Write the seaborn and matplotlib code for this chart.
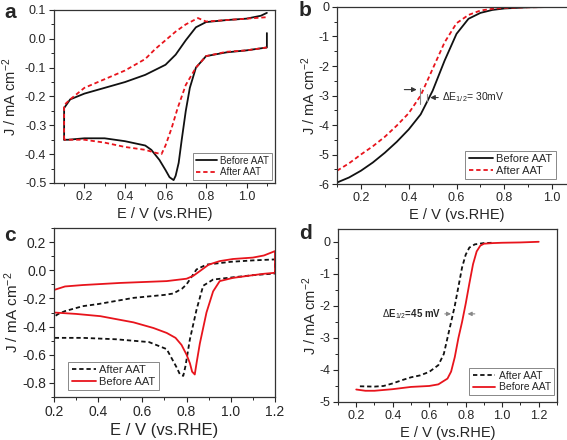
"""
Voltametrías (CV) y curvas LSV antes / después del AAT - 4 paneles
"""

import numpy as np
import pandas as pd
import matplotlib
matplotlib.use("Agg")
import matplotlib.pyplot as plt
from matplotlib.ticker import MultipleLocator
import seaborn as sns

# Datos
# Panel a: CV, rama anódica (0.1 -> 1.1) y rama catódica (1.1 -> 0.1)
a_antes_sube_e = [0.10, 0.10, 0.13, 0.20, 0.30, 0.40, 0.50, 0.60, 0.65, 0.70, 0.75, 0.80, 0.90, 1.00, 1.07, 1.10]
a_antes_sube_j = [-0.35, -0.24, -0.21, -0.19, -0.17, -0.15, -0.125, -0.09, -0.055, -0.005, 0.04, 0.058, 0.065, 0.07, 0.08, 0.09]
a_antes_baja_e = [1.10, 1.10, 1.05, 1.00, 0.90, 0.80, 0.75, 0.72, 0.70, 0.68, 0.665, 0.65, 0.64, 0.62, 0.60, 0.57,
                  0.53, 0.50, 0.40, 0.30, 0.20, 0.12, 0.10]
a_antes_baja_j = [0.02, -0.03, -0.035, -0.04, -0.047, -0.06, -0.10, -0.17, -0.25, -0.35, -0.43, -0.475, -0.49, -0.48, -0.455, -0.42,
                  -0.385, -0.37, -0.355, -0.345, -0.345, -0.35, -0.35]
a_despues_sube_e = [0.10, 0.10, 0.13, 0.20, 0.30, 0.40, 0.50, 0.55, 0.60, 0.65, 0.70, 0.76, 0.80, 0.90, 1.00, 1.10]
a_despues_sube_j = [-0.35, -0.23, -0.21, -0.17, -0.14, -0.11, -0.07, -0.035, -0.005, 0.025, 0.05, 0.072, 0.06, 0.065, 0.07, 0.075]
a_despues_baja_e = [1.10, 1.00, 0.90, 0.80, 0.75, 0.70, 0.66, 0.63, 0.60, 0.58, 0.55, 0.50, 0.40, 0.30, 0.20, 0.10]
a_despues_baja_j = [-0.03, -0.04, -0.045, -0.06, -0.10, -0.16, -0.24, -0.31, -0.37, -0.40, -0.395, -0.385, -0.375, -0.36, -0.35, -0.35]

# Panel b: LSV
b_e = [0.10, 0.15, 0.20, 0.25, 0.30, 0.35, 0.40, 0.45, 0.50, 0.55, 0.60, 0.65, 0.70, 0.75, 0.80, 0.90, 1.00, 1.10]
b_antes_j = [-5.95, -5.78, -5.55, -5.27, -4.94, -4.57, -4.15, -3.64, -2.84, -1.82, -0.91, -0.40, -0.20, -0.10, -0.05, -0.01, 0.0, 0.0]
b_despues_j = [-5.55, -5.30, -5.00, -4.72, -4.40, -4.02, -3.60, -3.00, -2.10, -1.20, -0.55, -0.27, -0.12, -0.06, -0.03, -0.01, 0.0, 0.0]

# Panel c: CV (ciclo completo)
c_antes_e = [0.20, 0.20, 0.25, 0.33, 0.50, 0.71, 0.80, 0.83, 0.86, 0.90, 0.95, 1.01, 1.10, 1.15, 1.20,
             1.20, 1.15, 1.10, 1.01, 0.95, 0.92, 0.89, 0.86, 0.845, 0.837, 0.825, 0.815, 0.80, 0.777, 0.75,
             0.71, 0.65, 0.56, 0.41, 0.30, 0.20]
c_antes_j = [-0.30, -0.14, -0.115, -0.105, -0.09, -0.077, -0.06, -0.04, -0.006, 0.04, 0.065, 0.08, 0.09, 0.105, 0.136,
             -0.018, -0.025, -0.035, -0.054, -0.077, -0.15, -0.30, -0.52, -0.66, -0.74, -0.72, -0.66, -0.60, -0.53, -0.48,
             -0.445, -0.41, -0.37, -0.326, -0.31, -0.30]
c_despues_e = [0.20, 0.20, 0.22, 0.25, 0.33, 0.40, 0.56, 0.70, 0.74, 0.78, 0.80, 0.845, 0.89, 1.00, 1.10, 1.20,
               1.20, 1.10, 1.01, 0.92, 0.875, 0.845, 0.815, 0.795, 0.785, 0.77, 0.755, 0.71, 0.63, 0.48, 0.33, 0.20, 0.20]
c_despues_j = [-0.47, -0.33, -0.31, -0.29, -0.255, -0.24, -0.196, -0.175, -0.165, -0.13, -0.10, 0.006, 0.04, 0.06, 0.07, 0.077,
               -0.023, -0.035, -0.05, -0.066, -0.11, -0.28, -0.49, -0.68, -0.75, -0.74, -0.69, -0.56, -0.51, -0.49, -0.48, -0.48, -0.47]

# Panel d: LSV
d_antes_e = [0.20, 0.25, 0.30, 0.40, 0.50, 0.60, 0.65, 0.70, 0.72, 0.74, 0.76, 0.78, 0.80, 0.82, 0.84, 0.86, 0.88, 0.90,
             0.95, 1.00, 1.10, 1.20]
d_antes_j = [-4.61, -4.65, -4.65, -4.60, -4.53, -4.50, -4.45, -4.27, -4.05, -3.60, -3.00, -2.50, -1.93, -1.30, -0.70, -0.30,
             -0.12, -0.06, -0.04, -0.03, -0.02, 0.0]
d_despues_e = [0.22, 0.30, 0.35, 0.40, 0.45, 0.50, 0.55, 0.60, 0.65, 0.68, 0.70, 0.72, 0.74, 0.76, 0.78, 0.80, 0.82, 0.85,
               0.90, 0.95]
d_despues_j = [-4.51, -4.52, -4.50, -4.42, -4.32, -4.23, -4.17, -4.06, -3.85, -3.50, -3.00, -2.50, -2.00, -1.40, -0.80,
               -0.40, -0.18, -0.08, -0.04, -0.03]

ROJO = '#e8141c'
NEGRO = '#111111'
GRIS = '#888888'
DASH = (0, (2.4, 1.6))
XLABEL = 'E / V (vs.RHE)'
YLABEL = r'J / mA cm$^{-2}$'

sns.set_style("ticks")
plt.rcParams['font.family'] = ['Liberation Sans', 'DejaVu Sans']
plt.rcParams['mathtext.fontset'] = 'custom'
plt.rcParams['mathtext.rm'] = 'Liberation Sans'
plt.rcParams['mathtext.it'] = 'Liberation Sans:italic'
plt.rcParams['mathtext.bf'] = 'Liberation Sans:bold'
plt.rcParams['axes.unicode_minus'] = False
plt.rcParams['axes.linewidth'] = 0.9
plt.rcParams['xtick.major.width'] = 0.8
plt.rcParams['ytick.major.width'] = 0.8
plt.rcParams['xtick.minor.width'] = 0.7
plt.rcParams['ytick.minor.width'] = 0.7
plt.rcParams['xtick.major.size'] = 3.5
plt.rcParams['ytick.major.size'] = 3.5
plt.rcParams['xtick.minor.size'] = 2
plt.rcParams['ytick.minor.size'] = 2

fig = plt.figure(figsize=(5.67, 4.40), dpi=100)
ax_a = fig.add_axes([0.0952, 0.5841, 0.3898, 0.3932])
ax_b = fig.add_axes([0.5944, 0.5818, 0.4215, 0.4023])
ax_c = fig.add_axes([0.0952, 0.0977, 0.3898, 0.3841])
ax_d = fig.add_axes([0.5961, 0.0864, 0.3862, 0.3932])


def trazar(ax, e, j, color, estilo, etiqueta=None):
    """Dibuja una curva sin reordenar los puntos (necesario en CV)"""
    sns.lineplot(x=e, y=j, ax=ax, sort=False, estimator=None, color=color,
                 linewidth=1.3, linestyle=estilo, label=etiqueta)


def configurar(ax, xlim, ylim, xmaj, ymaj, fmt_y, size_tick, size_lab, ylab_x):
    ax.set_xlim(*xlim)
    ax.set_ylim(*ylim)
    ax.xaxis.set_major_locator(MultipleLocator(xmaj))
    ax.xaxis.set_minor_locator(MultipleLocator(xmaj / 2))
    ax.yaxis.set_major_locator(MultipleLocator(ymaj))
    ax.yaxis.set_minor_locator(MultipleLocator(ymaj / 2))
    ax.xaxis.set_major_formatter(plt.FuncFormatter(lambda v, p: f'{v:.1f}'))
    ax.yaxis.set_major_formatter(plt.FuncFormatter(lambda v, p: fmt_y.format(v + 0.0)))
    ax.tick_params(which='both', direction='out', top=False, right=False, labelsize=size_tick, pad=2)
    ax.set_xlabel(XLABEL, fontsize=size_lab, labelpad=3)
    ax.set_ylabel(YLABEL, fontsize=min(size_lab, 11))
    ax.yaxis.set_label_coords(ylab_x, 0.5)
    for s in ax.spines.values():
        s.set_visible(True)
        s.set_color('#333333')


def leyenda(ax, loc, size, bbox):
    leg = ax.legend(loc=loc, bbox_to_anchor=bbox, fontsize=size, frameon=True, fancybox=False,
                    edgecolor=GRIS, framealpha=1, handlelength=2.2, handletextpad=0.3,
                    borderpad=0.3, labelspacing=0.15, borderaxespad=0.3)
    leg.get_frame().set_linewidth(0.7)


# Panel a
trazar(ax_a, a_antes_sube_e, a_antes_sube_j, NEGRO, '-', 'Before AAT')
trazar(ax_a, a_antes_baja_e, a_antes_baja_j, NEGRO, '-')
trazar(ax_a, a_despues_sube_e, a_despues_sube_j, ROJO, DASH, 'After AAT')
trazar(ax_a, a_despues_baja_e, a_despues_baja_j, ROJO, DASH)
configurar(ax_a, (0.05, 1.14), (-0.5, 0.1), 0.2, 0.1, '{:.1f}', 9, 10.5, -0.16)
leyenda(ax_a, 'lower right', 7, (1.0, 0.0))

# Panel b
trazar(ax_b, b_e, b_antes_j, NEGRO, '-', 'Before AAT')
trazar(ax_b, b_e, b_despues_j, ROJO, DASH, 'After AAT')
configurar(ax_b, (0.1, 1.1), (-6, 0), 0.2, 1, '{:.0f}', 9, 10.5, -0.08)
leyenda(ax_b, 'lower right', 8, (0.93, 0.01))
ax_b.plot([0.447, 0.447], [-2.75, -3.3], color=GRIS, lw=0.8)
ax_b.plot([0.475, 0.475], [-2.95, -3.2], color=GRIS, lw=0.8)
ax_b.annotate('', xy=(0.445, -2.8), xytext=(0.37, -2.8),
              arrowprops=dict(arrowstyle='-|>', color='#333333', lw=0.8, mutation_scale=7))
ax_b.annotate('', xy=(0.478, -3.07), xytext=(0.535, -3.07),
              arrowprops=dict(arrowstyle='-|>', color='#333333', lw=0.8, mutation_scale=7))
ax_b.text(0.54, -3.07, r'$\Delta$E$_{1/2}$= 30mV', fontsize=7.5, va='center', ha='left')

# Panel c
trazar(ax_c, c_despues_e, c_despues_j, NEGRO, DASH, 'After AAT')
trazar(ax_c, c_antes_e, c_antes_j, ROJO, '-', 'Before AAT')
configurar(ax_c, (0.2, 1.2), (-0.9, 0.3), 0.2, 0.2, '{:.1f}', 10, 12, -0.15)
leyenda(ax_c, 'lower left', 8, (0.05, 0.02))

# Panel d
trazar(ax_d, d_despues_e, d_despues_j, NEGRO, DASH, 'After AAT')
trazar(ax_d, d_antes_e, d_antes_j, ROJO, '-', 'Before AAT')
configurar(ax_d, (0.1, 1.3), (-5, 0.4), 0.2, 1, '{:.0f}', 9, 10.5, -0.085)
leyenda(ax_d, 'lower right', 7.5, (1.0, 0.02))
ax_d.annotate('', xy=(0.735, -2.25), xytext=(0.67, -2.25),
              arrowprops=dict(arrowstyle='-|>', color=GRIS, lw=0.8, mutation_scale=6))
ax_d.annotate('', xy=(0.795, -2.25), xytext=(0.865, -2.25),
              arrowprops=dict(arrowstyle='-|>', color=GRIS, lw=0.8, mutation_scale=6))
ax_d.text(0.665, -2.25, r'$\Delta$E$_{1/2}$=45 mV', fontsize=7, fontweight='bold', va='center', ha='right')

# Letras de panel
for letra, x, y in [('a', 10, 12), ('b', 305, 10), ('c', 10, 235), ('d', 306, 233)]:
    fig.text(x / 567, 1 - y / 440, letra, fontsize=15, fontweight='bold', ha='center', va='center')

plt.savefig('out.png', dpi=100)
plt.close()
